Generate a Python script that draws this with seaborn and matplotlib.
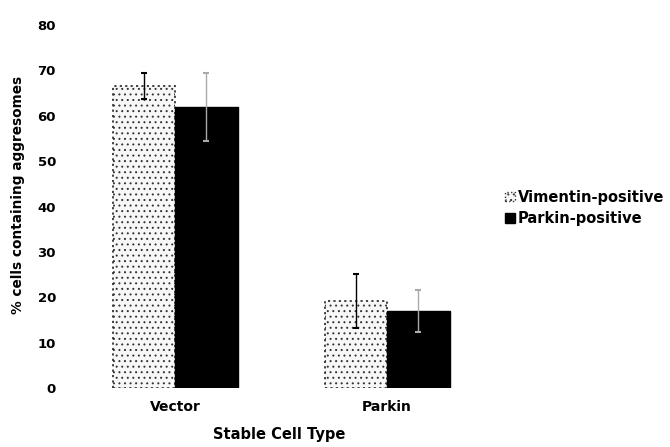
import matplotlib
matplotlib.use("Agg")
import matplotlib.pyplot as plt
import seaborn as sns
import pandas as pd
import numpy as np
from matplotlib.patches import Patch

categories = ["Vector", "Parkin"]
series = ["Vimentin-positive", "Parkin-positive"]
vimentin = [66.5, 19.2]
parkin = [61.9, 17.0]
vimentin_err = [2.9, 6.0]
parkin_err = [7.5, 4.6]
yticks = [0, 10, 20, 30, 40, 50, 60, 70, 80]

df = pd.DataFrame({
    "cat": categories * 2,
    "series": [series[0]] * 2 + [series[1]] * 2,
    "val": vimentin + parkin,
})

sns.set_theme(style="white")
plt.rcParams["font.family"] = ["DejaVu Sans"]
plt.rcParams["font.weight"] = "bold"
plt.rcParams["text.color"] = "black"
plt.rcParams["axes.labelcolor"] = "black"
plt.rcParams["xtick.color"] = "black"
plt.rcParams["ytick.color"] = "black"
plt.rcParams["hatch.color"] = "#8a8a8a"
plt.rcParams["hatch.linewidth"] = 0.7

fig = plt.figure(figsize=(6.7, 4.47), dpi=100)
ax = fig.add_axes([0.10, 0.132, 0.62, 0.812])

sns.barplot(data=df, x="cat", y="val", hue="series", order=categories,
            hue_order=series, palette=["#f7f7f7", "black"], width=0.59,
            errorbar=None, ax=ax, legend=False, saturation=1)

errs = [vimentin_err, parkin_err]
vals = [vimentin, parkin]
bar_containers = list(ax.containers)
for i, cont in enumerate(bar_containers):
    for j, p in enumerate(cont.patches):
        if i == 0:
            p.set_hatch("...")
            p.set_edgecolor("#333333")
            p.set_linestyle((0, (1.2, 1.8)))
            p.set_linewidth(1.3)
        else:
            p.set_edgecolor("black")
        cx = p.get_x() + p.get_width() / 2
        ax.errorbar(cx, vals[i][j], yerr=errs[i][j], fmt="none",
                    ecolor="black" if i == 0 else "#aaaaaa",
                    elinewidth=1.0, capsize=2, capthick=1.5, zorder=5)

ax.set_xlim(-0.51, 1.45)
ax.set_ylim(0, 80)
ax.set_yticks(yticks)
ax.set_yticklabels([str(t) for t in yticks], fontsize=9.5, fontweight="heavy")
ax.tick_params(axis="y", pad=8, length=0)
ax.tick_params(axis="x", pad=9, length=0)
for lab in ax.get_xticklabels():
    lab.set_fontsize(10)
    lab.set_fontweight("heavy")
for s in ax.spines.values():
    s.set_visible(False)

ax.set_xlabel("Stable Cell Type", fontsize=10.5, fontweight="heavy", labelpad=7)
ax.xaxis.set_label_coords(0.51, -0.107)
ax.set_ylabel("% cells containing aggresomes", fontsize=9.8, fontweight="heavy", labelpad=8)
ax.yaxis.set_label_coords(-0.10, 0.532)

handles = [Patch(facecolor="#f7f7f7", edgecolor="#333333", hatch="...", linestyle=":"),
           Patch(facecolor="black", edgecolor="black")]
ax.legend(handles, series, loc="center left", bbox_to_anchor=(1.055, 0.496),
          frameon=False, handlelength=0.65, handleheight=0.65, borderaxespad=0,
          borderpad=0, handletextpad=0.2, labelspacing=0.45,
          prop={"weight": "heavy", "size": 10.5})

fig.savefig("out.png", dpi=100)
